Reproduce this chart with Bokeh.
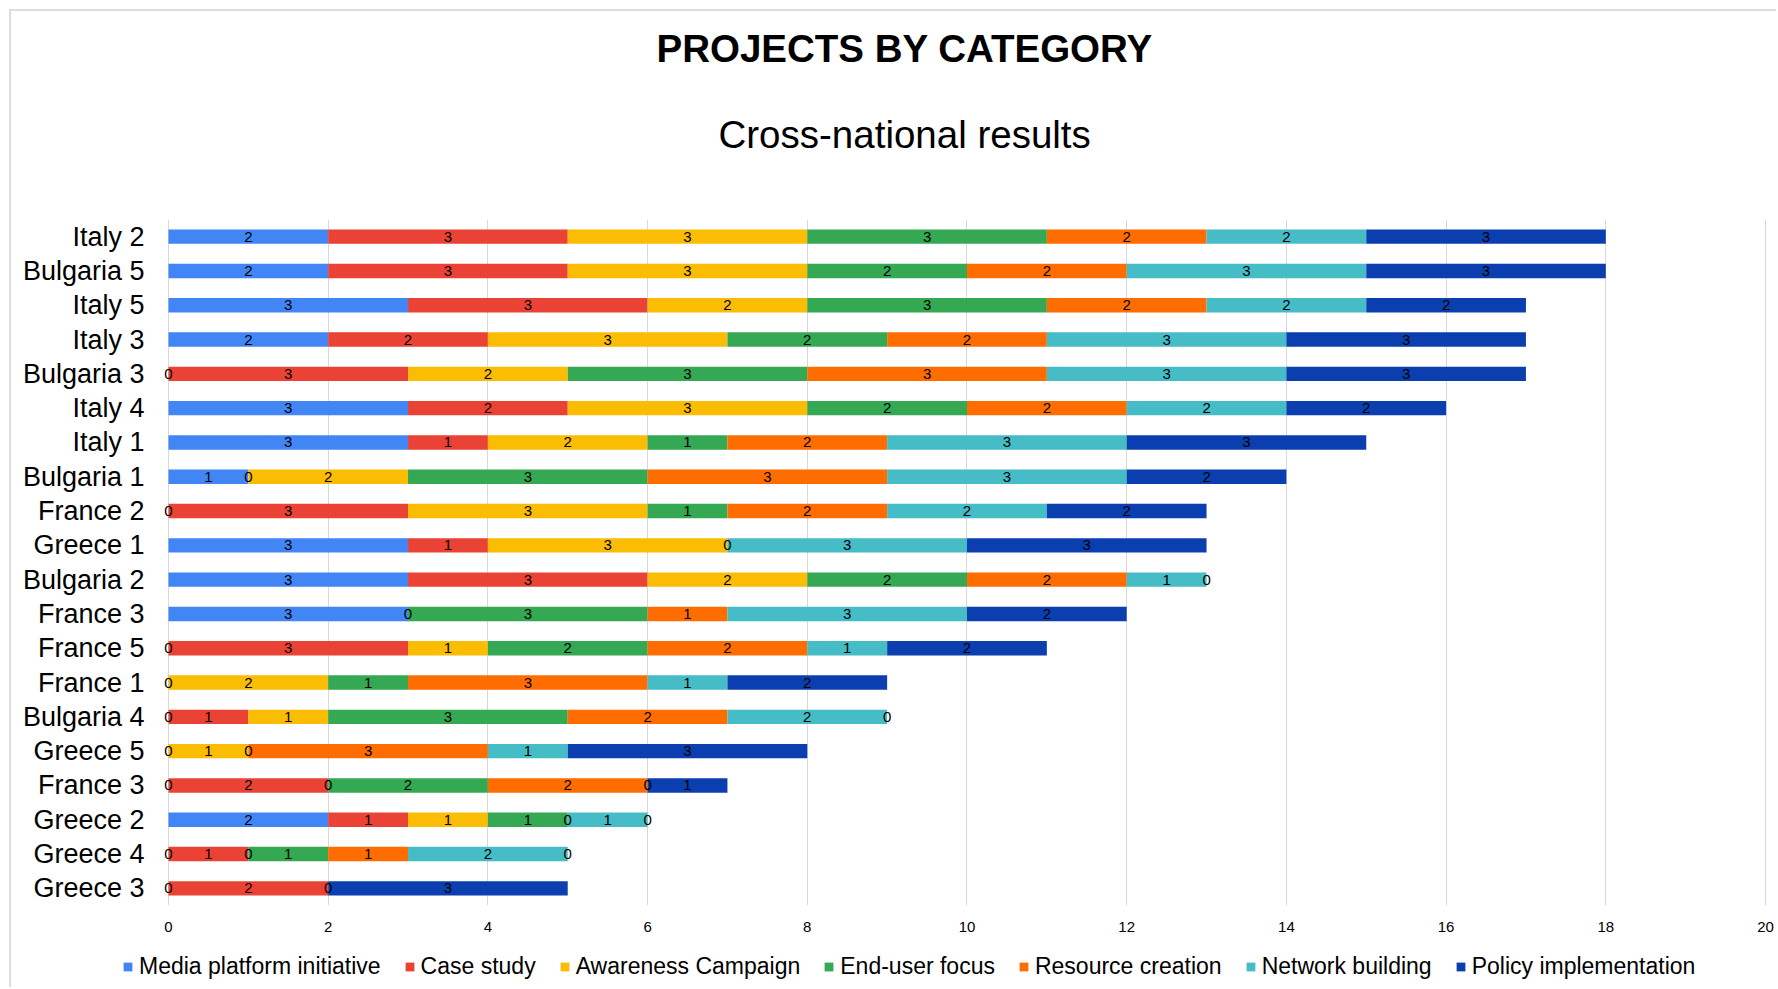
import numpy as np
from bokeh.plotting import figure
from bokeh.layouts import column
from bokeh.models import (ColumnDataSource, Range1d, FixedTicker, LabelSet, Title,
                          Legend, LegendItem)
from bokeh.core.properties import value
from bokeh.embed import file_html
from bokeh.resources import INLINE

N = None
rows = ["Italy 2", "Bulgaria 5", "Italy 5", "Italy 3", "Bulgaria 3", "Italy 4", "Italy 1",
        "Bulgaria 1", "France 2", "Greece 1", "Bulgaria 2", "France 3", "France 5", "France 1",
        "Bulgaria 4", "Greece 5", "France 3", "Greece 2", "Greece 4", "Greece 3"]

categories = ["Media platform initiative", "Case study", "Awareness Campaign", "End-user focus",
              "Resource creation", "Network building", "Policy implementation"]

media     = [2, 2, 3, 2, 0, 3, 3, 1, 0, 3, 3, 3, 0, 0, 0, 0, 0, 2, 0, 0]
case      = [3, 3, 3, 2, 3, 2, 1, 0, 3, 1, 3, 0, 3, N, 1, N, 2, 1, 1, 2]
awareness = [3, 3, 2, 3, 2, 3, 2, 2, 3, 3, 2, N, 1, 2, 1, 1, 0, 1, 0, 0]
enduser   = [3, 2, 3, 2, 3, 2, 1, 3, 1, 0, 2, 3, 2, 1, 3, 0, 2, 1, 1, N]
resource  = [2, 2, 2, 2, 3, 2, 2, 3, 2, N, 2, 1, 2, 3, 2, 3, 2, 0, 1, N]
network   = [2, 3, 2, 3, 3, 2, 3, 3, 2, 3, 1, 3, 1, 1, 2, 1, 0, 1, 2, N]
policy    = [3, 3, 2, 3, 3, 2, 3, 2, 2, 3, 0, 2, 2, 2, 0, 3, 1, 0, 0, 3]

xticks = [0, 2, 4, 6, 8, 10, 12, 14, 16, 18, 20]

colors = ["#4285F4", "#EA4335", "#FBBC04", "#34A853", "#FF6D01", "#46BDC6", "#0B3FB0"]
series = [media, case, awareness, enduser, resource, network, policy]
keys = ["s%d" % i for i in range(len(series))]

FONT = "Liberation Sans"
BORDER = "2px solid #dcdcdc"

ypos = list(range(len(rows)))
data = {"y": ypos}
for k, s in zip(keys, series):
    data[k] = [0 if v is None else v for v in s]
src = ColumnDataSource(data)

# label positions (segment centres)
lx, ly, lt = [], [], []
start = np.zeros(len(rows))
for s in series:
    vals = np.array([0 if v is None else v for v in s], dtype=float)
    for i, v in enumerate(s):
        if v is not None:
            lx.append(start[i] + v / 2.0)
            ly.append(ypos[i])
            lt.append(str(v))
    start = start + vals
lab_src = ColumnDataSource(dict(x=lx, y=ly, t=lt))

# ---------------- main chart ----------------
p = figure(width=1767, height=934,
           x_range=Range1d(-0.15, 20.05), y_range=Range1d(len(rows) - 0.5, -0.5),
           output_backend="svg", toolbar_location=None,
           min_border_left=145, min_border_right=9, min_border_top=0,
           min_border_bottom=40)
p.frame_align = False
p.styles = {"margin-left": "9px", "margin-top": "9px",
            "border-left": BORDER, "border-top": BORDER}

rs = p.hbar_stack(keys, y="y", height=0.42, fill_color=colors, line_color=None, source=src)

labels = LabelSet(x="x", y="y", text="t", source=lab_src, text_align="center",
                  text_baseline="middle", text_font=value(FONT), text_font_size="15px",
                  text_color="black")
p.add_layout(labels)

p.xaxis.ticker = FixedTicker(ticks=xticks)
p.yaxis.ticker = FixedTicker(ticks=ypos)
p.yaxis.major_label_overrides = {i: rows[i] for i in ypos}
for ax in (p.xaxis, p.yaxis):
    ax.axis_line_color = None
    ax.major_tick_line_color = None
    ax.minor_tick_line_color = None
    ax.major_tick_in = 0
    ax.major_tick_out = 0
    ax.major_label_text_font = FONT
    ax.major_label_text_color = "#000000"
p.xaxis.major_label_text_font_size = "15px"
p.xaxis.major_label_standoff = 16
p.yaxis.major_label_text_font_size = "27px"
p.yaxis.major_label_standoff = 12

p.xgrid.grid_line_color = "#d9d9d9"
p.ygrid.grid_line_color = None
p.outline_line_color = None

# titles: spacer (nearest the frame), subtitle, main title
p.add_layout(Title(text=" ", text_font_size="10px", standoff=23), "above")
p.add_layout(Title(text="Cross-national results", align="left", offset=562,
                   vertical_align="middle", standoff=53,
                   text_font=FONT, text_font_style="normal", text_font_size="38.5px",
                   text_color="#000000"), "above")
p.add_layout(Title(text="PROJECTS BY CATEGORY", align="left", offset=500,
                   vertical_align="middle", standoff=29,
                   text_font=FONT, text_font_style="bold", text_font_size="38.5px",
                   text_color="#000000"), "above")

# ---------------- legend strip ----------------
pl = figure(width=1767, height=44, x_range=Range1d(0, 1), y_range=Range1d(0, 1),
            output_backend="svg", toolbar_location=None,
            x_axis_location=None, y_axis_location=None,
            min_border_left=0, min_border_right=0, min_border_top=0, min_border_bottom=0)
pl.frame_align = False
pl.styles = {"margin-left": "9px", "border-left": BORDER}
pl.grid.visible = False
pl.outline_line_color = None
# invisible placeholder glyphs (outside the view) that only feed the legend swatches
dummies = [pl.hbar(y=[-10], left=[0], right=[0.1], height=0.5, fill_color=c, line_color=None)
           for c in colors]
legend = Legend(items=[LegendItem(label=c, renderers=[r]) for c, r in zip(categories, dummies)],
                location=(111, 7), orientation="horizontal",
                glyph_width=11, glyph_height=11, label_standoff=6, spacing=23,
                padding=0, margin=0, background_fill_alpha=0, border_line_color=None,
                label_text_font=FONT, label_text_font_size="23px",
                label_text_color="#000000")
pl.add_layout(legend)

layout = column(p, pl, spacing=0)
open("out.html", "w").write(file_html(layout, INLINE))
